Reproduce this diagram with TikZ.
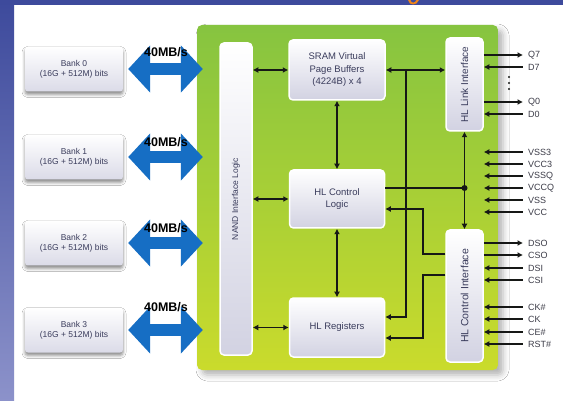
\documentclass[tikz,border=0pt]{standalone}
\usepackage{fontspec}
\setmainfont{Liberation Sans}
\usetikzlibrary{arrows.meta,shadows.blur}

\definecolor{bgblue}{RGB}{61,74,156}
\definecolor{bglight}{RGB}{140,146,202}
\definecolor{greentop}{RGB}{134,196,64}
\definecolor{greenbot}{RGB}{202,219,44}
\definecolor{arrowblue}{RGB}{22,110,196}
\definecolor{boxlow}{RGB}{210,210,226}
\definecolor{boxtext}{RGB}{58,60,92}
\definecolor{wire}{RGB}{22,24,22}
\definecolor{pintext}{RGB}{60,60,72}
\definecolor{markorange}{RGB}{240,132,24}

\tikzset{
  >={Latex[length=5.5pt,width=6pt]},
  conn/.style={draw=wire, line width=1.7pt},
  greenblock/.style={rounded corners=5pt, top color=greentop, bottom color=greenbot,
    minimum width=301pt, minimum height=345pt, inner sep=0pt,
    blur shadow={shadow xshift=5pt, shadow yshift=-5pt, shadow blur radius=6pt, shadow opacity=30}},
  innerbox/.style={rounded corners=4pt, top color=white, bottom color=boxlow,
    draw=white, line width=1.5pt, text=boxtext, align=center, inner sep=0pt,
    font=\fontsize{9.5}{12.5}\selectfont},
  bankbox/.style={rounded corners=3pt, top color=white, bottom color=boxlow!80,
    minimum width=98pt, minimum height=45pt, inner sep=0pt, align=center,
    text=boxtext, font=\fontsize{8.5}{10}\selectfont,
    blur shadow={shadow xshift=0pt, shadow yshift=-3pt, shadow blur radius=3pt, shadow opacity=45}},
  bigarrow/.style={draw=arrowblue, line width=12pt,
    {Triangle[length=22pt,width=46pt]}-{Triangle[length=22pt,width=46pt]}},
  ratelabel/.style={font=\bfseries\fontsize{12.5}{12.5}\selectfont, text=black, inner sep=0pt},
  pinlabel/.style={anchor=west, inner xsep=5pt, inner ysep=0pt, text=pintext,
    font=\fontsize{9}{9}\selectfont}
}

\begin{document}
\begin{tikzpicture}[x=1pt,y=-1pt]
\useasboundingbox (0,0) rectangle (563,401);
\fill[white] (0,0) rectangle (563,401);

% page frame: blue band along the top and shaded band on the left
\shade[top color=bgblue, bottom color=bglight] (0,0) rectangle (14,401);
\fill[bgblue] (0,0) rectangle (563,5);
\fill[markorange] (408,0) .. controls (409,6) and (417,6) .. (419,0) -- (416.5,0)
  .. controls (415,3.5) and (411,3.5) .. (410.5,0) -- cycle;

% green device block
\node[greenblock] (core) at (347.5,197.5) {};

% memory banks with their bus arrows
\foreach \i/\yy in {0/69,1/157,2/243,3/330}
  \node[bankbox] (bank\i) at (74,\yy) {Bank \i\\(16G + 512M) bits};
\foreach \i/\ly in {0/52,1/142,2/228,3/307} {
  \draw[bigarrow] ([xshift=5pt]bank\i.east) -- ([xshift=6pt]bank\i.east -| core.west);
  \node[ratelabel] (rate\i) at (166,\ly) {40MB/s};
}

% internal blocks
\node[innerbox, minimum width=32pt, minimum height=312pt] (nand) at (236,199) {};
\node[text=boxtext, rotate=90, font=\fontsize{8.5}{8.5}\selectfont] (nandtext) at (nand.center) {NAND Interface Logic};
\node[innerbox, minimum width=96pt, minimum height=60pt] (sram) at (337,70)
  {SRAM Virtual\\Page Buffers\\(4224B) x 4};
\node[innerbox, minimum width=95pt, minimum height=58pt] (hlcl) at (337,199)
  {HL Control\\Logic};
\node[innerbox, minimum width=95pt, minimum height=59pt] (hlreg) at (337,327.5)
  {HL Registers};
\node[innerbox, minimum width=37pt, minimum height=93pt] (link) at (464.5,84.5) {};
\node[text=boxtext, rotate=90, font=\fontsize{10}{10}\selectfont] (linktext) at (link.center) {HL Link Interface};
\node[innerbox, minimum width=37pt, minimum height=132pt] (ctrlif) at (464.5,296) {};
\node[text=boxtext, rotate=90, font=\fontsize{10.5}{10.5}\selectfont] (ctrltext) at (ctrlif.center) {HL Control Interface};

% internal connections
\draw[conn,<->] (nand.east |- sram.west) -- (sram.west);
\draw[conn,<->] (nand.east |- hlcl.west) -- (hlcl.west);
\draw[conn,<->] (nand.east |- hlreg.west) -- (hlreg.west);
\draw[conn,<->] (sram.south) -- (hlcl.north);
\draw[conn,<->] (hlcl.south) -- (hlreg.north);
\draw[conn,<->] (sram.east) -- (sram.east -| link.west);

\coordinate (bx) at (406,70);
\draw[conn,->] (bx) |- (hlreg.east |- 0,317);

\coordinate (jn) at (link.south |- 0,188);
\draw[conn,<->] (link.south) -- (ctrlif.north);
\draw[conn] (hlcl.east |- 0,188) -- (jn);
\fill[wire] (jn) circle (3pt);

\draw[conn,->] (ctrlif.west |- 0,254) -- (423,254) -- (423,209) -- (hlcl.east |- 0,209);
\draw[conn,->] (ctrlif.west |- 0,275) -- (423,275) -- (423,338) -- (hlreg.east |- 0,338);

% external pins
\foreach \nm/\lab/\yy/\dir in {
    q7/Q7/55/->, d7/D7/67/<-, q0/Q0/102/->, d0/D0/114/<-,
    vssa/VSS3/152/<-, vcca/VCC3/164/<-, vssq/VSSQ/176/<-, vccq/VCCQ/188/<-,
    vss/VSS/200/<-, vcc/VCC/212/<-,
    dso/DSO/243/->, cso/CSO/255/->, dsi/DSI/268/<-, csi/CSI/280/<-,
    ckb/CK\#/307/<-, ck/CK/319/<-, ceb/CE\#/332/<-, rstb/RST\#/344/<-} {
  \node[pinlabel] (p\nm) at (523,\yy) {\lab};
  \draw[conn,\dir] (p\nm.west -| link.east) -- (p\nm.west);
}
\foreach \yy in {77,83,89}
  \fill[wire] (509,\yy) circle (1.1pt);
\end{tikzpicture}
\end{document}
